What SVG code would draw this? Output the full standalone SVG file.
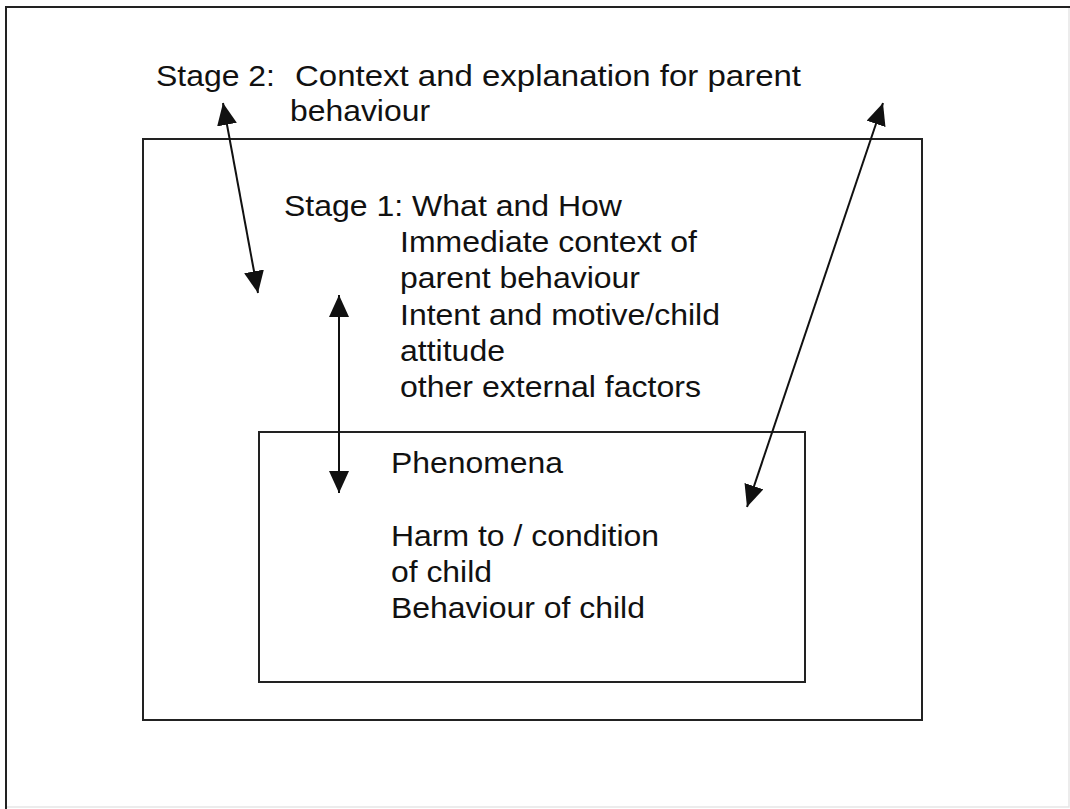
<svg xmlns="http://www.w3.org/2000/svg" width="1070" height="809" viewBox="0 0 1070 809">
  <style>
    .box { fill: none; stroke: #222; stroke-width: 2; }
    .frame { fill: none; stroke: #222; stroke-width: 2; }
    .frame-faint { fill: none; stroke: #e6e6e6; stroke-width: 1.5; }
    .lbl { font-family: "Liberation Sans", Arial, sans-serif; font-size: 30px; fill: #111; }
    .conn { stroke: #111; stroke-width: 2; fill: none; marker-start: url(#ah); marker-end: url(#ah); }
  </style>
  <defs>
    <marker id="ah" viewBox="0 0 22 20" refX="22" refY="10" markerWidth="22" markerHeight="20" markerUnits="userSpaceOnUse" orient="auto-start-reverse">
      <path d="M0,0 L22,10 L0,20 z" fill="#111"/>
    </marker>
  </defs>
  <rect width="1070" height="809" fill="#ffffff"/>

  <g id="frame">
    <path class="frame-faint" d="M1069,7 V807 H6"/>
    <path class="frame" d="M6,809 V7 H1070"/>
  </g>

  <g id="stage2">
    <text class="lbl" x="156" y="86" textLength="119" lengthAdjust="spacingAndGlyphs">Stage 2:</text>
    <text class="lbl" x="295" y="86" textLength="506" lengthAdjust="spacingAndGlyphs">Context and explanation for parent</text>
    <text class="lbl" x="290" y="121" textLength="140" lengthAdjust="spacingAndGlyphs">behaviour</text>
  </g>

  <g id="stage1">
    <rect class="box" x="143" y="139" width="779" height="581"/>
    <text class="lbl" x="284" y="216" textLength="338" lengthAdjust="spacingAndGlyphs">Stage 1: What and How</text>
    <text class="lbl" x="400" y="252" textLength="297" lengthAdjust="spacingAndGlyphs">Immediate context of</text>
    <text class="lbl" x="400" y="288" textLength="240" lengthAdjust="spacingAndGlyphs">parent behaviour</text>
    <text class="lbl" x="400" y="325" textLength="320" lengthAdjust="spacingAndGlyphs">Intent and motive/child</text>
    <text class="lbl" x="400" y="361" textLength="105" lengthAdjust="spacingAndGlyphs">attitude</text>
    <text class="lbl" x="400" y="397" textLength="301" lengthAdjust="spacingAndGlyphs">other external factors</text>
  </g>

  <g id="phenomena">
    <rect class="box" x="259" y="432" width="546" height="250"/>
    <text class="lbl" x="391" y="473" textLength="172" lengthAdjust="spacingAndGlyphs">Phenomena</text>
    <text class="lbl" x="391" y="546" textLength="268" lengthAdjust="spacingAndGlyphs">Harm to / condition</text>
    <text class="lbl" x="391" y="582" textLength="101" lengthAdjust="spacingAndGlyphs">of child</text>
    <text class="lbl" x="391" y="618" textLength="254" lengthAdjust="spacingAndGlyphs">Behaviour of child</text>
  </g>

  <g id="connectors">
    <line class="conn" x1="223" y1="103" x2="258" y2="293"/>
    <line class="conn" x1="339" y1="295" x2="339" y2="493"/>
    <line class="conn" x1="883" y1="103" x2="747" y2="507"/>
  </g>
</svg>
